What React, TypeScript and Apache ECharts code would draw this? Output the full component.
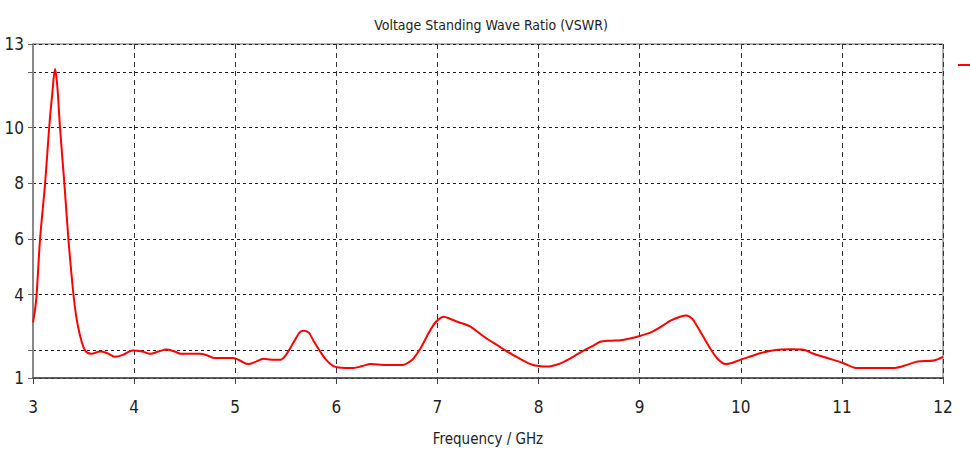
import React, { useEffect, useRef } from "react";
import * as echarts from "echarts";

const TITLE = "Voltage Standing Wave Ratio (VSWR)";
const X_NAME = "Frequency / GHz";
const SERIES_NAME = "VSWR";

const freq = [
  3.0, 3.02, 3.036, 3.07, 3.12, 3.16, 3.19, 3.218, 3.24, 3.267, 3.31, 3.35, 3.4, 3.43, 3.465, 3.5, 3.53, 3.58,
  3.66, 3.73, 3.81, 3.89, 3.95, 3.99, 4.08, 4.16, 4.24, 4.32, 4.4, 4.46, 4.55, 4.65, 4.72, 4.79, 4.88, 4.98,
  5.05, 5.13, 5.2, 5.28, 5.36, 5.45, 5.51, 5.58, 5.64, 5.68, 5.73, 5.78, 5.84, 5.9, 5.97, 6.05, 6.17, 6.25,
  6.34, 6.47, 6.57, 6.66, 6.71, 6.76, 6.83, 6.9, 6.96, 7.0, 7.06, 7.13, 7.2, 7.33, 7.41, 7.49, 7.6, 7.69,
  7.8, 7.92, 8.0, 8.09, 8.17, 8.25, 8.35, 8.45, 8.55, 8.61, 8.7, 8.81, 8.88, 9.01, 9.1, 9.18, 9.31, 9.4,
  9.46, 9.52, 9.57, 9.63, 9.7, 9.77, 9.85, 9.92, 10.0, 10.1, 10.2, 10.3, 10.4, 10.5, 10.61, 10.7, 10.79,
  10.9, 11.01, 11.14, 11.3, 11.52, 11.65, 11.75, 11.91, 12.0,
];

const vswr = [
  3.0, 3.45, 4.0, 6.0, 8.0, 10.0, 11.2, 12.1, 11.5, 10.0, 8.0, 6.0, 4.0, 3.15, 2.53, 2.1, 1.93, 1.87,
  1.95, 1.9, 1.76, 1.83, 1.95, 1.99, 1.95, 1.87, 1.95, 2.02, 1.95, 1.87, 1.87, 1.87, 1.82, 1.72, 1.72, 1.72,
  1.62, 1.5, 1.58, 1.69, 1.66, 1.66, 1.87, 2.3, 2.65, 2.7, 2.62, 2.3, 1.95, 1.65, 1.43, 1.37, 1.36, 1.42,
  1.5, 1.47, 1.47, 1.47, 1.55, 1.69, 2.05, 2.53, 2.9, 3.07, 3.2, 3.12, 3.02, 2.84, 2.62, 2.41, 2.16, 1.95,
  1.72, 1.5, 1.43, 1.41, 1.47, 1.58, 1.78, 1.99, 2.18, 2.3, 2.34, 2.36, 2.4, 2.52, 2.62, 2.77, 3.07, 3.2,
  3.25, 3.13, 2.85, 2.48, 2.05, 1.69, 1.5, 1.55, 1.66, 1.78, 1.9, 1.98, 2.02, 2.03, 2.02, 1.9, 1.79,
  1.67, 1.54, 1.36, 1.36, 1.36, 1.48, 1.59, 1.63, 1.76,
];

const yLabelValues = [1, 4, 6, 8, 10, 13];
const yTickValues = [1, 2, 4, 6, 8, 10, 12, 13];

const FONT = "DejaVu Sans Condensed, DejaVu Sans, sans-serif";

export default function App() {
  const ref = useRef<HTMLDivElement>(null);

  useEffect(() => {
    if (!ref.current) return;
    const chart = echarts.init(ref.current, null, { renderer: "svg" });
    const data = freq.map((f, i) => [f, vswr[i]]);
    chart.setOption({
      animation: false,
      backgroundColor: "#ffffff",
      title: {
        text: TITLE,
        left: 486,
        textAlign: "center",
        top: 13,
        textStyle: { fontFamily: FONT, fontSize: 14, fontWeight: "normal", color: "#222" },
      },
      legend: {
        left: 953,
        top: 59,
        icon: "rect",
        itemWidth: 14,
        itemHeight: 2,
        formatter: () => "",
        data: [SERIES_NAME],
      },
      grid: {
        left: 33,
        right: 27,
        top: 44,
        bottom: 77,
        show: true,
        borderColor: "#666",
        borderWidth: 1,
      },
      xAxis: {
        type: "value",
        min: 3,
        max: 12,
        interval: 1,
        name: X_NAME,
        nameLocation: "middle",
        nameGap: 53,
        nameTextStyle: { fontFamily: FONT, fontSize: 15, color: "#222" },
        axisLine: { show: true, onZero: false, lineStyle: { color: "#444", width: 1.5 } },
        axisTick: { show: true, inside: false, length: 6, lineStyle: { color: "#444" } },
        axisLabel: { fontFamily: FONT, fontSize: 17, color: "#222", margin: 20 },
        splitLine: { show: true, lineStyle: { color: "#333", type: [5, 4], width: 1 } },
      },
      yAxis: {
        type: "value",
        min: 1,
        max: 13,
        axisLine: { show: true, onZero: false, lineStyle: { color: "#888", width: 2 } },
        axisTick: {
          show: true,
          inside: false,
          length: 5,
          customValues: yTickValues,
          lineStyle: { color: "#666" },
        },
        axisLabel: {
          fontFamily: FONT,
          fontSize: 17,
          color: "#222",
          margin: 9,
          customValues: yLabelValues,
        },
        splitLine: { show: true, lineStyle: { color: "#222", type: [3, 3], width: 1 } },
      },
      series: [
        {
          name: SERIES_NAME,
          type: "line",
          data,
          showSymbol: false,
          smooth: 0.3,
          lineStyle: { color: "#ff0000", width: 2 },
          itemStyle: { color: "#ff0000" },
        },
      ],
    });
    return () => chart.dispose();
  }, []);

  return (
    <div
      ref={ref}
      style={{ position: "absolute", left: 0, top: 0, width: 970, height: 455, background: "#fff" }}
    />
  );
}
